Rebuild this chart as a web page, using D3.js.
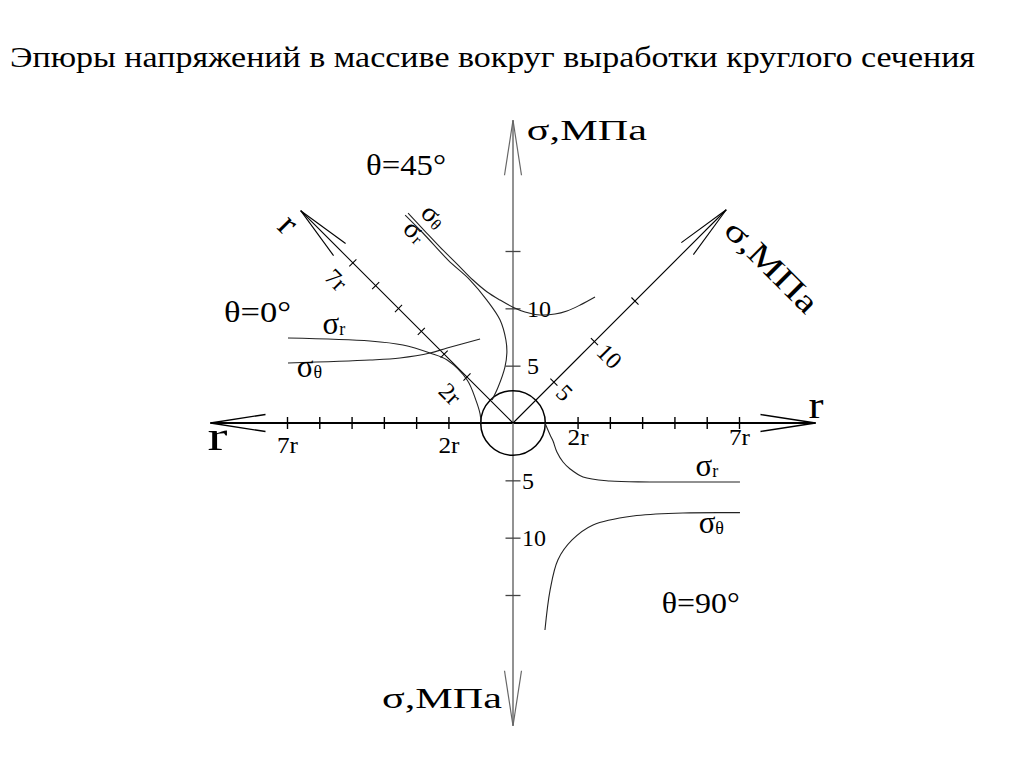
<!DOCTYPE html>
<html>
<head>
<meta charset="utf-8">
<script src="https://cdn.jsdelivr.net/npm/d3@7"></script>
<style>
  body { margin: 0; background: #fff; }
  svg { display: block; }
</style>
</head>
<body>
<div id="chart"></div>
<script>
/* ── Data ─────────────────────────────────────────────────────────── */
const titleText = 'Эпюры напряжений в массиве вокруг выработки круглого сечения';

// ticks on the r axes (multiples of the opening radius) and on the σ axes (MPa)
const rTicks      = [2, 3, 4, 5, 6, 7];
const rTickLabels = new Map([[2, '2r'], [7, '7r']]);
const sTicks      = [5, 10, 15];
const sTickLabels = new Map([[5, '5'], [10, '10']]);

// axis extents
const rAxisMax    = 9.37;   // horizontal r axis, both sides
const sAxisMax    = 26.4;   // vertical σ axis, both sides
const diagRMax    = 9.3;    // inclined r axis
const diagSMax    = 26.3;   // inclined σ axis
const openingR    = 1;      // radius of the opening, in r

// θ = 0° (drawn to the left, r < 0)
const t0SigmaR_r = [-6.97, -4.43, -3.41, -2.57, -2.04, -1.42, -1.15, -1.02, -0.99];
const t0SigmaR_s = [ 7.41,  7.15,  6.80,  6.10,  5.49,  3.75,  2.00,  0.80,  0.00];
const t0SigmaT_r = [-6.97, -4.43, -3.50, -2.57, -2.04, -1.02];
const t0SigmaT_s = [ 5.23,  5.49,  5.67,  6.10,  6.54,  7.32];

// θ = 45°
const t45SigmaT_r = [-3.25, -2.73, -2.26, -1.73, -1.24, -0.81, -0.40, 0.00, 0.37, 0.84, 1.30, 1.67, 2.08, 2.54];
const t45SigmaT_s = [18.31, 16.74, 15.34, 13.86, 12.47, 11.45, 10.72, 10.10, 9.68, 9.42, 9.50, 9.77, 10.29, 10.99];
const t45SigmaR_r = [-3.34, -2.79, -2.01, -1.33, -0.81, -0.40, -0.22, -0.19, -0.25, -0.46, -0.65];
const t45SigmaR_s = [18.13, 16.57, 14.21, 12.47, 10.72,  8.98,  7.24,  6.10,  4.88,  3.14,  2.00];

// θ = 90° (drawn to the right, σ downwards)
const t90SigmaR_r = [0.99, 1.15, 1.24, 1.36, 1.55, 1.77, 2.17, 3.00, 4.24, 7.03];
const t90SigmaR_s = [0.00, -1.05, -1.57, -2.53, -3.40, -4.01, -4.71, -5.06, -5.14, -5.14];
const t90SigmaT_r = [0.99, 1.15, 1.39, 1.83, 2.48, 3.72, 5.26, 7.03];
const t90SigmaT_s = [-18.05, -14.56, -11.94, -10.20, -8.89, -8.11, -7.85, -7.82];

/* ── Scaffold ─────────────────────────────────────────────────────── */
const W = 1024, H = 767;
const FONT = "'Liberation Serif', 'Times New Roman', serif";

const svg = d3.select('#chart').append('svg')
  .attr('width', W).attr('height', H)
  .attr('viewBox', `0 0 ${W} ${H}`)
  .style('font-family', FONT);

svg.append('text')
  .attr('x', 10).attr('y', 67)
  .attr('font-size', 30)
  .attr('textLength', 965).attr('lengthAdjust', 'spacingAndGlyphs')
  .text(titleText);

// x: position in r (negative = left), y: stress in MPa
const x = d3.scaleLinear().domain([0, 7]).range([513, 739]);
const y = d3.scaleLinear().domain([0, 15]).range([423, 251]);
const rLen = d3.scaleLinear().domain([0, 7]).range([0, 226]);   // length along an inclined r axis
const sLen = d3.scaleLinear().domain([0, 15]).range([0, 172]);  // length along an inclined σ axis

const g = svg.append('g');
const x0 = x(0), y0 = y(0);

/* ── Helpers ──────────────────────────────────────────────────────── */
function arrowHead(tx, ty, angleDeg, stroke, width) {
  const a = angleDeg * Math.PI / 180, L = 55, Wd = 8.5;
  const ux = Math.cos(a), uy = Math.sin(a);
  [-1, 1].forEach(s => {
    g.append('line')
      .attr('x1', tx).attr('y1', ty)
      .attr('x2', tx - L * ux + s * Wd * -uy)
      .attr('y2', ty - L * uy + s * Wd * ux)
      .attr('stroke', stroke).attr('stroke-width', width);
  });
}

function label(px, py, txt, size, opts = {}) {
  const t = g.append('text')
    .attr('x', px).attr('y', py)
    .attr('font-size', size)
    .attr('text-anchor', opts.anchor || 'start')
    .text(txt);
  if (opts.len) t.attr('textLength', opts.len).attr('lengthAdjust', 'spacingAndGlyphs');
  if (opts.rotate) t.attr('transform', `rotate(${opts.rotate},${px},${py})`);
  return t;
}

function sigmaLabel(px, py, subTxt, rotate, size = 31) {
  const t = g.append('text')
    .attr('x', px).attr('y', py)
    .attr('font-size', size);
  t.append('tspan').text('σ');
  t.append('tspan').attr('font-size', size * 0.58).attr('dy', 1).text(subTxt);
  if (rotate) t.attr('transform', `rotate(${rotate},${px},${py})`);
}

function styleAxis(sel, stroke, width) {
  sel.select('.domain').remove();
  sel.selectAll('line').attr('stroke', stroke).attr('stroke-width', width);
  sel.selectAll('text').attr('fill', '#000').attr('font-family', FONT);
}

/* ── Horizontal r axis ────────────────────────────────────────────── */
g.append('line')
  .attr('x1', x(-rAxisMax)).attr('x2', x(rAxisMax))
  .attr('y1', y0).attr('y2', y0)
  .attr('stroke', '#000').attr('stroke-width', 1.8);
arrowHead(x(rAxisMax), y0, 0, '#000', 1.3);
arrowHead(x(-rAxisMax), y0, 180, '#000', 1.3);

const xLeft = d3.scaleLinear().domain([0, 7]).range([x0, x(-7)]);
[[x, 22], [xLeft, 30]].forEach(([sc, base]) => {
  g.append('g')
    .attr('transform', `translate(0,${y0})`)
    .call(d3.axisBottom(sc).tickValues(rTicks).tickFormat(d => rTickLabels.get(d) || '').tickSize(6))
    .call(sel => styleAxis(sel, '#000', 1.4))
    .call(sel => sel.selectAll('.tick line').attr('y1', -6))
    .call(sel => sel.selectAll('.tick text').attr('y', base).attr('dy', null)
      .attr('font-size', 24).attr('textLength', 21).attr('lengthAdjust', 'spacingAndGlyphs'));
});

label(x(-rAxisMax) - 3, y0 + 27, 'r', 40, { len: 20 });
label(x(rAxisMax) - 7, y0 - 5, 'r', 38, { len: 15 });

/* ── Vertical σ axis ──────────────────────────────────────────────── */
g.append('line')
  .attr('x1', x0).attr('x2', x0)
  .attr('y1', y(sAxisMax)).attr('y2', y(-sAxisMax))
  .attr('stroke', '#777').attr('stroke-width', 1.6);
arrowHead(x0, y(sAxisMax), -90, '#666', 1.2);
arrowHead(x0, y(-sAxisMax), 90, '#666', 1.2);

g.append('g')
  .attr('transform', `translate(${x0},0)`)
  .call(d3.axisRight(y).tickValues([...sTicks, ...sTicks.map(v => -v)])
    .tickFormat(d => sTickLabels.get(Math.abs(d)) || '').tickSize(7.5))
  .call(sel => styleAxis(sel, '#444', 1.3))
  .call(sel => sel.selectAll('.tick line').attr('x1', -7.5))
  .call(sel => sel.selectAll('.tick text')
    .attr('x', d => d > 0 ? 14 : 9).attr('font-size', 24).attr('dy', '0.33em'));

label(x(0.43), y(24.7), 'σ,МПа', 30, { len: 120 });
label(x(-4.06), y(-24.85), 'σ,МПа', 30, { len: 120 });

/* ── Inclined σ axis (45° up-right) ───────────────────────────────── */
const diagS = g.append('g').attr('transform', `translate(${x0},${y0}) rotate(-45)`);
diagS.append('line')
  .attr('x1', 0).attr('x2', sLen(diagSMax))
  .attr('stroke', '#000').attr('stroke-width', 1.4);
diagS.call(d3.axisBottom(sLen).tickValues(sTicks).tickFormat(d => sTickLabels.get(d) || '').tickSize(5))
  .call(sel => styleAxis(sel, '#000', 1.1))
  .call(sel => sel.selectAll('.tick line').attr('y1', -5))
  .call(sel => sel.selectAll('.tick text')
    .attr('y', null).attr('dy', null)
    .attr('text-anchor', 'start').attr('dominant-baseline', 'central')
    .attr('font-size', 24)
    .attr('transform', 'translate(0,9) rotate(90)'));
{
  const d = sLen(diagSMax) / Math.SQRT2;
  arrowHead(x0 + d, y0 - d, -45, '#000', 1.1);
}
// axis title, placed beyond the arrow and off to the lower right side
diagS.append('text')
  .attr('x', 294).attr('y', 72)
  .attr('fill', '#000')
  .attr('font-family', FONT)
  .attr('font-size', 32)
  .attr('text-anchor', 'middle').attr('dominant-baseline', 'central')
  .attr('textLength', 118).attr('lengthAdjust', 'spacingAndGlyphs')
  .attr('transform', 'rotate(90,294,72)')
  .text('σ,МПа');

/* ── Inclined r axis (45° up-left) ────────────────────────────────── */
const diagR = g.append('g').attr('transform', `translate(${x0},${y0}) rotate(-135)`);
diagR.append('line')
  .attr('x1', 0).attr('x2', rLen(diagRMax))
  .attr('stroke', '#000').attr('stroke-width', 1.4);
diagR.call(d3.axisTop(rLen).tickValues(rTicks).tickFormat(d => rTickLabels.get(d) || '').tickSize(5))
  .call(sel => styleAxis(sel, '#000', 1.1))
  .call(sel => sel.selectAll('.tick line').attr('y1', 5))
  .call(sel => sel.selectAll('.tick text')
    .attr('y', null).attr('dy', null)
    .attr('text-anchor', 'middle').attr('dominant-baseline', 'central')
    .attr('font-size', 24)
    .attr('transform', 'translate(0,-24) rotate(180)'));
{
  const d = rLen(diagRMax) / Math.SQRT2;
  arrowHead(x0 - d, y0 - d, -135, '#000', 1.1);
  label(x0 - d - 12, y0 - d + 13, 'r', 36, { anchor: 'middle', rotate: 45 })
    .attr('dominant-baseline', 'central');
}

/* ── Opening ──────────────────────────────────────────────────────── */
g.append('circle')
  .attr('cx', x0).attr('cy', y0)
  .attr('r', x(openingR) - x0)
  .attr('fill', 'none').attr('stroke', '#000').attr('stroke-width', 1.5);

/* ── Stress curves ────────────────────────────────────────────────── */
const line = d3.line()
  .x(d => x(d[0])).y(d => y(d[1]))
  .curve(d3.curveCatmullRom.alpha(0.5));

[
  [t0SigmaR_r, t0SigmaR_s],
  [t0SigmaT_r, t0SigmaT_s],
  [t45SigmaT_r, t45SigmaT_s],
  [t45SigmaR_r, t45SigmaR_s],
  [t90SigmaR_r, t90SigmaR_s],
  [t90SigmaT_r, t90SigmaT_s]
].forEach(([rs, ss]) => {
  g.append('path')
    .datum(d3.zip(rs, ss))
    .attr('d', line)
    .attr('fill', 'none')
    .attr('stroke', '#222')
    .attr('stroke-width', 1.1);
});

/* ── Annotations ──────────────────────────────────────────────────── */
label(x(-4.55), y(21.6), 'θ=45°', 30, { len: 80 });
label(x(-8.95), y(8.8), 'θ=0°', 30, { len: 67 });
label(x(4.61), y(-16.6), 'θ=90°', 30, { len: 78 });

sigmaLabel(x(-5.9), y(7.8), 'r');
sigmaLabel(x(-6.7), y(4.0), 'θ');
sigmaLabel(x(5.65), y(-4.6), 'r');
sigmaLabel(x(5.75), y(-9.6), 'θ');
sigmaLabel(x(-2.9), y(18.2), 'θ', 45, 28);
sigmaLabel(x(-3.45), y(16.8), 'r', 45, 28);
</script>
</body>
</html>
